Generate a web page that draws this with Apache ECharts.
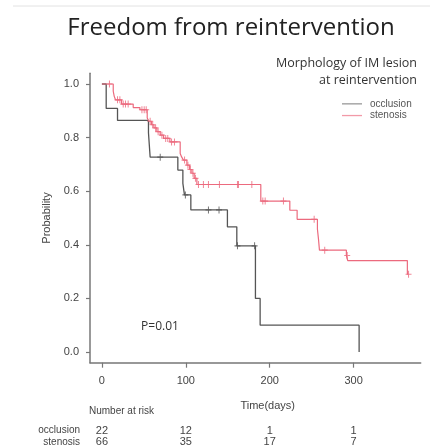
<!DOCTYPE html>
<html><head><meta charset="utf-8">
<script src="https://cdn.jsdelivr.net/npm/echarts@6/dist/echarts.min.js"></script>
<style>html,body{margin:0;padding:0;background:#fff}#c{width:431px;height:448px}</style>
</head><body><div id="c"></div>
<script>
const xTicks = [0, 100, 200, 300];
const yTicks = [0, 0.2, 0.4, 0.6, 0.8, 1.0];
const groups = ['occlusion', 'stenosis'];
const occTime = [0, 5.1, 18.6, 55.5, 57.5, 90.5, 96.5, 98.4, 106, 149.6, 160.8, 183, 188.6, 306.6];
const occSurv = [1, 0.909, 0.864, 0.818, 0.727, 0.679, 0.629, 0.586, 0.530, 0.467, 0.396, 0.200, 0.100, 0];
const occCensTime = [69.5, 99.5, 127, 139.6, 161.6, 182];
const occCensSurv = [0.727, 0.586, 0.530, 0.530, 0.396, 0.396];
const stenTime = [0, 13.5, 14.7, 16.2, 23.4, 37.3, 45.3, 54, 56, 59, 62, 65.5, 69.5, 73.5, 81, 93.3, 95, 97.2, 101.3, 104.4, 107.2, 110, 113.2, 189.4, 224, 232.7, 256.9, 258.2, 259.3, 291.4, 293, 364.1, 365.5];
const stenSurv = [1, 0.973, 0.954, 0.941, 0.925, 0.912, 0.904, 0.873, 0.861, 0.848, 0.836, 0.822, 0.809, 0.797, 0.784, 0.741, 0.728, 0.716, 0.697, 0.681, 0.667, 0.648, 0.625, 0.563, 0.529, 0.495, 0.458, 0.420, 0.380, 0.360, 0.341, 0.290, 0.290];
const stenCensTime = [9, 18.6, 21.4, 25.4, 28.1, 31.3, 47.7, 50.4, 52.8, 57.5, 60.5, 64, 67, 71.5, 76, 78.5, 83, 86.5, 98.5, 102.5, 105.5, 108.5, 111.5, 115.1, 121, 127, 140.1, 161.6, 162.8, 178.7, 191.8, 194.6, 216.4, 253, 265.6, 292.4, 365.5];
const stenCensSurv = [1.0, 0.941, 0.941, 0.925, 0.925, 0.925, 0.904, 0.904, 0.904, 0.861, 0.848, 0.836, 0.822, 0.809, 0.797, 0.797, 0.784, 0.784, 0.716, 0.697, 0.681, 0.667, 0.648, 0.625, 0.625, 0.625, 0.625, 0.625, 0.625, 0.625, 0.563, 0.563, 0.563, 0.495, 0.380, 0.360, 0.290];
const riskOcc = [22, 12, 1, 1];
const riskSten = [66, 35, 17, 7];

const colOcc = '#555555', colSten = '#ec6a7e';
const plus = 'path://M5,0 L5,10 M1,5 L9,5';
const chart = echarts.init(document.getElementById('c'), null, {renderer: 'canvas'});
const lab = {fontFamily: 'Liberation Sans, Arial, sans-serif', color: '#444', fontSize: 11};

chart.setOption({
  animation: false,
  grid: {left: 90, right: 10.3, top: 73.3, bottom: 85.3, outerBoundsMode: 'none'},
  xAxis: {
    type: 'value', min: -14.2, max: 380,
    axisLine: {show: true, onZero: false, lineStyle: {color: '#777', width: 1.5}},
    axisTick: {show: true, length: 5, customValues: xTicks, lineStyle: {color: '#777', width: 1.2}},
    axisLabel: Object.assign({customValues: xTicks, margin: 13, formatter: v => String(v)}, lab),
    splitLine: {show: false}
  },
  yAxis: {
    type: 'value', min: -0.04, max: 1.04,
    name: 'Probability', nameLocation: 'middle', nameGap: 31,
    nameTextStyle: Object.assign({}, lab),
    axisLine: {show: true, onZero: false, lineStyle: {color: '#777', width: 1.5}},
    axisTick: {show: true, length: 4, customValues: yTicks, lineStyle: {color: '#777', width: 1.2}},
    axisLabel: Object.assign({customValues: yTicks, margin: 11, formatter: v => v.toFixed(1)}, lab),
    splitLine: {show: false}
  },
  legend: {
    orient: 'vertical', left: 337, top: 93,
    icon: 'rect', itemWidth: 20, itemHeight: 1.3, itemGap: 0,
    textStyle: {fontFamily: 'Liberation Sans, Arial, sans-serif', fontSize: 10, color: '#555', lineHeight: 11.7, padding: [0, 0, 0, 3]},
    data: [{name: groups[0], itemStyle: {color: '#999'}}, {name: groups[1], itemStyle: {color: '#f29aa8'}}]
  },
  series: [
    {name: groups[0], type: 'line', step: 'end', showSymbol: false, symbol: 'none',
     lineStyle: {color: colOcc, width: 1.3}, itemStyle: {color: colOcc},
     data: occTime.map((t, i) => [t, occSurv[i]])},
    {name: groups[1], type: 'line', step: 'end', showSymbol: false, symbol: 'none',
     lineStyle: {color: colSten, width: 1.2}, itemStyle: {color: colSten},
     data: stenTime.map((t, i) => [t, stenSurv[i]])},
    {name: groups[0] + ' censored', type: 'scatter', symbol: plus, symbolSize: [6, 7],
     itemStyle: {color: 'transparent', borderColor: colOcc, borderWidth: 1.1},
     data: occCensTime.map((t, i) => [t, occCensSurv[i]])},
    {name: groups[1] + ' censored', type: 'scatter', symbol: plus, symbolSize: [6, 7],
     itemStyle: {color: 'transparent', borderColor: colSten, borderWidth: 1.1},
     data: stenCensTime.map((t, i) => [t, stenCensSurv[i]])}
  ]
});

const gfx = [
  {type: 'line', shape: {x1: 13, y1: 6, x2: 430, y2: 6}, style: {stroke: '#e2e2e2', lineWidth: 1}},
  {type: 'text', x: 231, y: 28.5, style: {text: 'Freedom from reintervention', font: '24px "Open Sans", sans-serif', fill: '#222', textAlign: 'center', textVerticalAlign: 'middle'}},
  {type: 'text', x: 417, y: 63.3, style: {text: 'Morphology of IM lesion', font: '12.5px "Open Sans", sans-serif', fill: '#333', textAlign: 'right', textVerticalAlign: 'middle'}},
  {type: 'text', x: 417, y: 80, style: {text: 'at reintervention', font: '12.5px "Open Sans", sans-serif', fill: '#333', textAlign: 'right', textVerticalAlign: 'middle'}},
  {type: 'text', x: 160, y: 326.7, style: {text: 'P=0.01', font: '12px "Open Sans", sans-serif', fill: '#333', textAlign: 'center', textVerticalAlign: 'middle'}},
  {type: 'text', x: 267.7, y: 405.7, style: {text: 'Time(days)', font: '11px "Liberation Sans", Arial, sans-serif', fill: '#444', textAlign: 'center', textVerticalAlign: 'middle'}},
  {type: 'text', x: 89, y: 411.7, style: {text: 'Number at risk', font: '10px "Liberation Sans", Arial, sans-serif', fill: '#444', textAlign: 'left', textVerticalAlign: 'middle'}},
  {type: 'text', x: 80, y: 430.7, style: {text: groups[0], font: '10px "Liberation Sans", Arial, sans-serif', fill: '#444', textAlign: 'right', textVerticalAlign: 'middle'}},
  {type: 'text', x: 80, y: 442.4, style: {text: groups[1], font: '10px "Liberation Sans", Arial, sans-serif', fill: '#444', textAlign: 'right', textVerticalAlign: 'middle'}}
];
xTicks.forEach((t, i) => {
  const px = chart.convertToPixel({xAxisIndex: 0}, t);
  gfx.push({type: 'text', x: px, y: 430.7, style: {text: String(riskOcc[i]), font: '11px "Liberation Sans", Arial, sans-serif', fill: '#444', textAlign: 'center', textVerticalAlign: 'middle'}});
  gfx.push({type: 'text', x: px, y: 442.4, style: {text: String(riskSten[i]), font: '11px "Liberation Sans", Arial, sans-serif', fill: '#444', textAlign: 'center', textVerticalAlign: 'middle'}});
});
chart.setOption({graphic: gfx});
</script></body></html>
